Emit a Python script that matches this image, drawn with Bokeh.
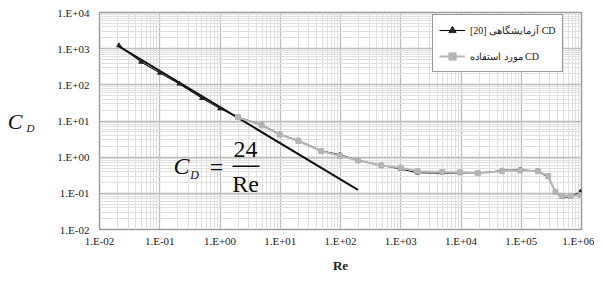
from bokeh.plotting import figure
from bokeh.models import (FixedTicker, CustomJSTickFormatter, Label, Legend, LegendItem,
                          BoxAnnotation, LinearAxis)
from bokeh.embed import file_html
from bokeh.resources import INLINE

# ---- data ----
re_vals = [0.021, 0.049, 0.1, 0.21, 0.5, 1.0, 2.0, 4.9, 9.8, 20, 48, 98, 195, 475,
           1000, 1900, 4900, 9600, 19000, 48000, 96000, 190000, 280000, 370000,
           480000, 660000, 960000]
cd_exp = [1230, 430, 214, 107, 43, 22, 12.7, 7.9, 4.3, 2.9, 1.5, 1.16, 0.82, 0.6,
          0.47, 0.37, 0.36, 0.37, 0.36, 0.43, 0.45, 0.41, 0.28, 0.107, 0.078, 0.08, 0.11]
re_used = [2.0, 4.9, 9.8, 20, 48, 98, 195, 475,
           1000, 1900, 4900, 9600, 19000, 48000, 96000, 190000, 280000, 370000,
           480000, 660000, 960000]
cd_used = [12.7, 7.6, 4.2, 2.8, 1.46, 1.1, 0.81, 0.59,
           0.51, 0.41, 0.39, 0.38, 0.36, 0.41, 0.43, 0.41, 0.30, 0.11, 0.085, 0.085, 0.09]
re_stokes = [0.021, 195]
cd_stokes = [1150, 0.125]

x_ticks = [1e-2, 1e-1, 1e0, 1e1, 1e2, 1e3, 1e4, 1e5, 1e6]
x_labels = ["1.E-02", "1.E-01", "1.E+00", "1.E+01", "1.E+02", "1.E+03", "1.E+04",
            "1.E+05", "1.E+06"]
y_ticks = [1e-2, 1e-1, 1e0, 1e1, 1e2, 1e3, 1e4]
y_labels = ["1.E-02", "1.E-01", "1.E+00", "1.E+01", "1.E+02", "1.E+03", "1.E+04"]

legend_exp = "[20] آزمایشگاهی CD"
legend_used = "مورد استفاده CD"

SERIF = "Liberation Serif"


def minor_of(ticks):
    out = []
    for t in ticks[:-1]:
        for m in range(2, 10):
            out.append(t * m)
    return out


p = figure(frame_width=482, frame_height=217, x_axis_type="log", y_axis_type="log",
           x_range=(1e-2, 1e6), y_range=(1e-2, 1e4),
           output_backend="svg", toolbar_location=None,
           min_border_left=99, min_border_right=13, min_border_top=12,
           min_border_bottom=52)

for ax, ticks, labels in ((p.xaxis[0], x_ticks, x_labels), (p.yaxis[0], y_ticks, y_labels)):
    ax.ticker = FixedTicker(ticks=ticks, minor_ticks=minor_of(ticks))
    ax.formatter = CustomJSTickFormatter(args=dict(tvals=ticks, tlabels=labels), code="""
        let best = 0, bd = 1e9;
        for (let i = 0; i < tvals.length; i++) {
            const d = Math.abs(Math.log10(tvals[i]) - Math.log10(tick));
            if (d < bd) { bd = d; best = i; }
        }
        return tlabels[best];
    """)
    ax.axis_line_color = None
    ax.major_tick_line_color = None
    ax.minor_tick_line_color = None
    ax.major_tick_out = 0
    ax.major_tick_in = 0
    ax.minor_tick_out = 0
    ax.minor_tick_in = 0
    ax.major_label_text_font = SERIF
    ax.major_label_text_font_size = "11px"
    ax.major_label_text_color = "#222222"

p.xaxis.major_label_standoff = 5
p.yaxis.major_label_standoff = 10
p.xaxis.axis_label = "Re"
p.xaxis.axis_label_text_font = SERIF
p.xaxis.axis_label_text_font_style = "bold"
p.xaxis.axis_label_text_font_size = "13px"
p.xaxis.axis_label_text_color = "#222222"
p.xaxis.axis_label_standoff = 8

p.xgrid.ticker = p.xaxis[0].ticker
p.ygrid.ticker = p.yaxis[0].ticker
for g in (p.xgrid[0], p.ygrid[0]):
    g.grid_line_color = "#bdbdbd"
    g.grid_line_width = 1.3
    g.minor_grid_line_color = "#e0e0e0"
    g.minor_grid_line_width = 1

p.outline_line_color = "#9a9a9a"
p.outline_line_width = 1.5

# Stokes line
p.line(re_stokes, cd_stokes, line_color="#111111", line_width=2)

# experimental series
l_exp = p.line(re_vals, cd_exp, line_color="#111111", line_width=1.1)
s_exp = p.scatter(re_vals, cd_exp, marker="triangle", size=4.5, color="#222222")

# used series
l_used = p.line(re_used, cd_used, line_color="#b8b8b8", line_width=2)
s_used = p.scatter(re_used, cd_used, marker="square", size=5, color="#b4b4b4")

legend = Legend(items=[LegendItem(label=legend_exp, renderers=[l_exp, s_exp]),
                       LegendItem(label=legend_used, renderers=[l_used, s_used])],
                location=(333, 157), label_text_font=SERIF,
                label_text_font_size="10px", label_text_color="#222222",
                glyph_width=26, glyph_height=18, label_height=18, spacing=8,
                padding=6, margin=0, label_standoff=5,
                border_line_color="#333333", border_line_width=1,
                background_fill_color="white", background_fill_alpha=1)
p.add_layout(legend)

# equation C_D = 24/Re
def lab(text, x, y, size, style="normal", align="center"):
    p.add_layout(Label(x=x, y=y, x_units="screen", y_units="screen", text=text,
                       text_font=SERIF, text_font_size=size, text_font_style=style,
                       text_align=align, text_baseline="middle", text_color="#111111"))

lab("C", 82, 64, "24px", "italic")
lab("D", 95, 55, "12px", "italic")
lab("=", 117, 63, "24px")
lab("24", 146, 80, "24px")
lab("Re", 146, 46, "24px")
p.add_layout(BoxAnnotation(left=133, right=160, bottom=62.5, top=64, left_units="screen",
                           right_units="screen", bottom_units="screen", top_units="screen",
                           fill_color="#111111", fill_alpha=1, line_color=None))

# y-axis title C_D : two extra label-only axes on the left ("D" inner, "C" outer)
def title_axis(text, size, standoff):
    ax = LinearAxis(ticker=FixedTicker(ticks=[]), axis_label=text,
                    axis_label_text_font=SERIF, axis_label_text_font_style="italic",
                    axis_label_text_font_size=size, axis_label_text_color="#111111",
                    axis_label_standoff=standoff, axis_line_color=None,
                    major_tick_line_color=None, minor_tick_line_color=None,
                    major_tick_out=0, major_tick_in=0, minor_tick_out=0, minor_tick_in=0,
                    major_label_text_font_size="0px", major_label_standoff=0)
    ax.axis_label_orientation = "horizontal"
    p.add_layout(ax, "left")

title_axis("\u00a0\nD", "11px", 20)   # blank first line pushes the subscript down
title_axis("C", "22px", 1)

open("out.html", "w").write(file_html(p, INLINE))
